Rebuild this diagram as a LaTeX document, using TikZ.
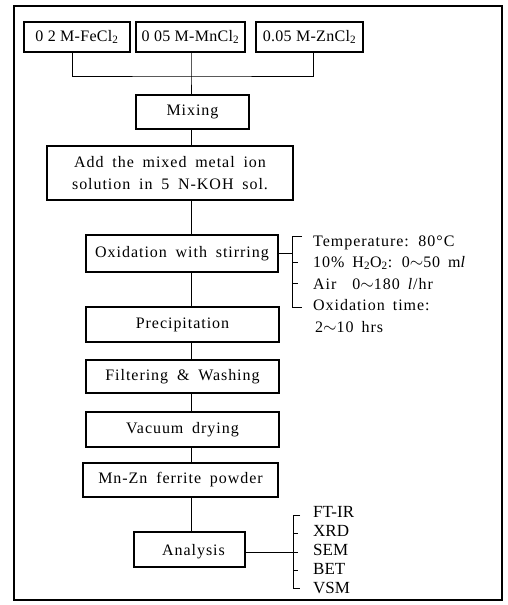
\documentclass[tikz,border=0pt]{standalone}
\usepackage{fontspec}
\setmainfont{Liberation Serif}
\newfontfamily\spacedserif[LetterSpace=6]{Liberation Serif}
\newfontfamily\tightserif[LetterSpace=2]{Liberation Serif}
\newcommand\myboxfont{\fontsize{16}{22}\spacedserif\spaceskip 0.55em\relax}
\newcommand\mylblfont{\fontsize{16}{20}\spacedserif\spaceskip 0.5em\relax}
\newcommand\mytopfont{\fontsize{16}{22}\tightserif}
\newcommand\myanafont{\fontsize{17}{18}\selectfont}
\begin{document}
\begin{tikzpicture}[x=1pt,y=-1pt,
  ln/.style={line width=1pt},
  box/.style={draw, line width=1.1pt, inner sep=0pt, align=center, font=\myboxfont},
  topbox/.style={draw, line width=1.1pt, inner sep=0pt, align=center, font=\mytopfont},
  lbl/.style={anchor=west, inner sep=0pt, font=\mylblfont},
  albl/.style={anchor=west, inner sep=0pt, font=\myanafont}]
\useasboundingbox (0,0) rectangle (507,605);
\draw[line width=1.2pt] (14,6) rectangle (502,600);
% top solutions
\node[topbox, minimum width=106pt, minimum height=30pt] (fe) at (77,37) {0 2 M-FeCl\textsubscript{2}};
\node[topbox, minimum width=109pt, minimum height=30pt] (mn) at (190.5,37) {0 05 M-MnCl\textsubscript{2}};
\node[topbox, minimum width=107pt, minimum height=30pt] (zn) at (309.5,37) {0.05 M-ZnCl\textsubscript{2}};
\node[box, minimum width=113pt, minimum height=34pt] (mix) at (192.5,112) {Mixing};
\node[box, minimum width=246pt, minimum height=54pt] (add) at (170,173) {Add the mixed metal ion\\solution in 5 N-KOH sol.};
\node[box, minimum width=192pt, minimum height=37pt] (ox) at (182,253.5) {Oxidation with stirring};
\node[box, minimum width=193pt, minimum height=35pt] (pre) at (182.5,324.5) {Precipitation};
\node[box, minimum width=193pt, minimum height=33pt] (fil) at (182.5,376.5) {Filtering \& Washing};
\node[box, minimum width=193pt, minimum height=35pt] (vac) at (182.5,429.5) {Vacuum drying};
\node[box, minimum width=195pt, minimum height=34pt] (fer) at (180.5,480) {Mn-Zn ferrite powder};
\node[box, minimum width=111pt, minimum height=35pt, text depth=0pt] (ana) at (189.5,549.5) {\hspace*{8pt}Analysis};
% connectors
\coordinate (j) at (191,76);
\coordinate (t) at (191,0);
\draw[ln] (fe.south -| 72,0) |- (j) -| (zn.south -| 313,0);
\draw[ln] (mn.south -| j) -- (j) -- (mix.north -| j);
\draw[ln] (mix.south -| t) -- (add.north -| t);
\draw[ln] (add.south -| t) -- (ox.north -| t);
\draw[ln] (ox.south -| t) -- (pre.north -| t);
\draw[ln] (pre.south -| t) -- (fil.north -| t);
\draw[ln] (fil.south -| t) -- (vac.north -| t);
\draw[ln] (vac.south -| t) -- (fer.north -| t);
\draw[ln] (fer.south -| t) -- (ana.north -| t);
% oxidation conditions bracket
\coordinate (ob) at (292,255);
\draw[ln] (ox.east) -- (ox.east -| ob);
\draw[ln] (302,236) -- (292,236) -- (292,307) -- (302,307);
\draw[ln] (292,262) -- (298,262);
\draw[ln] (292,283) -- (298,283);
\node[lbl] (c1) at (313,243) {Temperature: 80°C};
\node[lbl] (c2) at (313,263) {10\% H\textsubscript{2}O\textsubscript{2}: 0$\sim$50 m\textit{l}};
\node[lbl] (c3) at (313,284) {Air\ \ 0$\sim$180 \textit{l}/hr};
\node[lbl] (c4) at (313,305) {Oxidation time:};
\node[lbl] (c5) at (315,327) {2$\sim$10 hrs};
% analysis bracket
\coordinate (ab) at (293,552);
\draw[ln] (ana.east |- ab) -- (ab);
\draw[ln] (300,515) -- (293,515) -- (293,588) -- (300,588);
\draw[ln] (293,533) -- (298,533);
\draw[ln] (293,552) -- (298,552);
\draw[ln] (293,570) -- (298,570);
\node[albl] (a1) at (313,512) {FT-IR};
\node[albl] (a2) at (313,531) {XRD};
\node[albl] (a3) at (313,550) {SEM};
\node[albl] (a4) at (313,569) {BET};
\node[albl] (a5) at (313,588) {VSM};
\end{tikzpicture}
\end{document}
